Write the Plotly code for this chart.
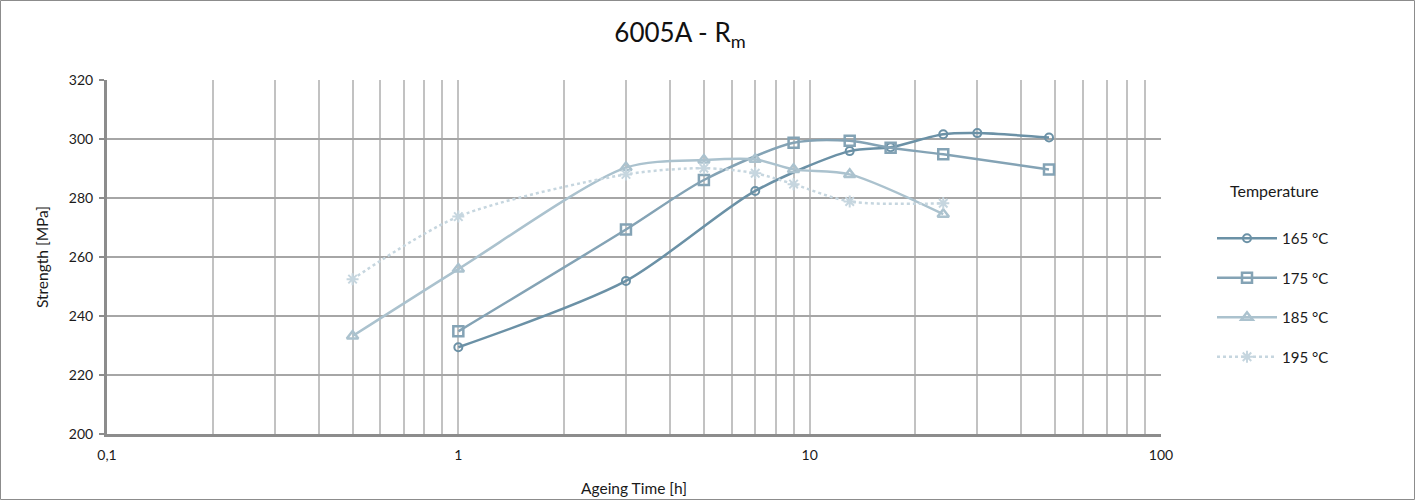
import plotly.graph_objects as go

# ---- data ----
t165 = [1, 3, 7, 13, 17, 24, 30, 48]
r165 = [229.4, 251.9, 282.4, 295.9, 297.2, 301.6, 302.0, 300.5]

t175 = [1, 3, 5, 9, 13, 17, 24, 48]
r175 = [234.8, 269.3, 286.1, 298.7, 299.4, 297.0, 294.8, 289.7]

t185 = [0.5, 1, 3, 5, 7, 9, 13, 24]
r185 = [233.2, 255.9, 290.3, 292.9, 293.1, 289.7, 288.0, 274.5]

t195 = [0.5, 1, 3, 5, 7, 9, 13, 24]
r195 = [252.5, 273.7, 288.0, 290.1, 288.4, 284.7, 278.8, 278.2]

series_names = ["165 °C", "175 °C", "185 °C", "195 °C"]

x_gridvals = [0.1, 0.2, 0.3, 0.4, 0.5, 0.6, 0.7, 0.8, 0.9,
              1, 2, 3, 4, 5, 6, 7, 8, 9,
              10, 20, 30, 40, 50, 60, 70, 80, 90, 100]
x_labels = {0.1: "0,1", 1: "1", 10: "10", 100: "100"}
y_ticks = [200, 220, 240, 260, 280, 300, 320]

FONT = "Lato, 'Open Sans', sans-serif"
TXT = "#1a1a1a"

fig = go.Figure()

styles = [
    dict(color="#6b91a6", dash="solid", width=2.5, symbol="circle-open", size=8, mlw=2),
    dict(color="#84a3b5", dash="solid", width=2.5, symbol="square-open", size=10, mlw=2.5),
    dict(color="#abc2ce", dash="solid", width=2.5, symbol="triangle-up-open", size=10, mlw=2.5),
    dict(color="#c6d6df", dash="dot", width=2.5, symbol="asterisk-open", size=10, mlw=2),
]
data = [(t165, r165), (t175, r175), (t185, r185), (t195, r195)]

for (xs, ys), name, st in zip(data, series_names, styles):
    fig.add_trace(go.Scatter(
        x=xs, y=ys, name=name, mode="lines+markers",
        line=dict(color=st["color"], width=st["width"], dash=st["dash"],
                  shape="spline", smoothing=0.8),
        marker=dict(symbol=st["symbol"], size=st["size"], color=st["color"],
                    line=dict(color=st["color"], width=st["mlw"])),
        legendgroup=name,
    ))

W, H = 1415, 500
L, R, T, B = 107, 254, 80, 66
pw, ph = W - L - R, H - T - B

fig.update_layout(
    width=W, height=H, autosize=False,
    margin=dict(l=L, r=R, t=T, b=B, autoexpand=False),
    paper_bgcolor="white", plot_bgcolor="white",
    separators=",.",
    font=dict(family=FONT, size=14, color=TXT),
    title=dict(text="6005A - R<sub>m</sub>", x=680 / W, xref="container",
               xanchor="center", y=1 - 33 / H, yref="container", yanchor="middle",
               font=dict(family=FONT, size=26, color="#111111")),
    xaxis=dict(
        type="log", range=[-1, 2], automargin=False,
        tickmode="array", tickvals=x_gridvals,
        ticktext=[x_labels.get(v, "") for v in x_gridvals],
        showgrid=True, gridcolor="#c2c2c2", gridwidth=2,
        showline=True, linecolor="#8c8c8c", linewidth=3,
        ticks="", zeroline=False, ticklabelstandoff=6,
        tickfont=dict(family=FONT, size=14, color=TXT),
        title=dict(text="Ageing Time [h]", standoff=22,
                   font=dict(family=FONT, size=15.5, color=TXT)),
    ),
    yaxis=dict(
        range=[200, 320], tickmode="array", tickvals=y_ticks, automargin=False,
        showgrid=True, gridcolor="#a6a6a6", gridwidth=2,
        showline=True, linecolor="#8c8c8c", linewidth=3,
        ticks="outside", ticklen=5, tickcolor="#8c8c8c", tickwidth=1.5,
        zeroline=False, ticklabelstandoff=3,
        tickfont=dict(family=FONT, size=14, color=TXT),
        title=dict(text="Strength [MPa]", standoff=17,
                   font=dict(family=FONT, size=15.5, color=TXT)),
    ),
    legend=dict(
        x=(1212 - L) / pw, xanchor="left",
        y=(H - B - 222) / ph, yanchor="top",
        font=dict(family=FONT, size=15, color=TXT),
        itemwidth=60,
        tracegroupgap=17, bgcolor="rgba(0,0,0,0)",
    ),
    showlegend=True,
)

# legend heading
fig.add_annotation(text="Temperature", xref="paper", yref="paper",
                   x=(1274 - L) / pw, y=(H - B - 190) / ph,
                   xanchor="center", yanchor="middle", showarrow=False,
                   font=dict(family=FONT, size=16, color=TXT))

# outer chart border
fig.add_shape(type="rect", xref="paper", yref="paper",
              x0=(0.5 - L) / pw, x1=(W - 0.5 - L) / pw,
              y0=-(B - 0.5) / ph, y1=(H - B - 0.5) / ph,
              line=dict(color="#8c8c8c", width=1), layer="below")

fig.write_html("out.html",
               config={"responsive": False, "displayModeBar": False},
               post_script="document.body.style.margin='0';")
